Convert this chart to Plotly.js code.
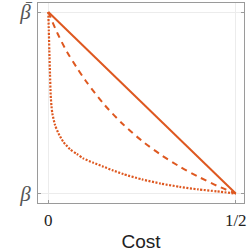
<!DOCTYPE html>
<html>
<head>
<meta charset="utf-8">
<script src="https://cdn.plot.ly/plotly-3.0.1.min.js"></script>
<style>html,body{margin:0;padding:0;background:#fff;}#chart{width:249px;height:252px;}</style>
</head>
<body>
<div id="chart"></div>
<script>
// Data (x = Cost, y normalised between beta (0) and beta-bar (1))
const solidX = [0, 0.5];
const solidY = [1, 0];

const dashedX = [0, 0.025, 0.05, 0.075, 0.1, 0.15, 0.2, 0.25, 0.3, 0.35, 0.4, 0.45, 0.5];
const dashedY = [1, 0.88, 0.78, 0.697, 0.62, 0.488, 0.38, 0.29, 0.214, 0.149, 0.093, 0.043, 0];

const dottedX = [0, 0.0013, 0.0027, 0.0045, 0.0064, 0.0085, 0.0107, 0.018, 0.027, 0.04, 0.058, 0.076, 0.093, 0.12, 0.147, 0.173, 0.2, 0.25, 0.3, 0.35, 0.4, 0.45, 0.5];
const dottedY = [1, 0.9, 0.79, 0.66, 0.54, 0.48, 0.442, 0.377, 0.332, 0.285, 0.244, 0.218, 0.194, 0.17, 0.148, 0.127, 0.107, 0.078, 0.055, 0.037, 0.023, 0.012, 0];

const xTickVals = [0, 0.5];
const xTickText = ['0', '1/2'];
const yTickVals = [0, 1];
const yTickText = ['<i>β</i>', '<i>β</i>'];

const col = 'rgb(222,88,32)';

const traces = [
  {x: solidX, y: solidY, mode: 'lines', line: {color: col, width: 2}, hoverinfo: 'skip'},
  {x: dashedX, y: dashedY, mode: 'lines', line: {color: col, width: 2, dash: '6px,5px', shape: 'spline', smoothing: 0.8}, hoverinfo: 'skip'},
  {x: dottedX, y: dottedY, mode: 'lines', line: {color: col, width: 2.2, dash: '2px,1.5px', shape: 'spline', smoothing: 0.6}, hoverinfo: 'skip'}
];

const layout = {
  width: 249, height: 252,
  margin: {l: 38, r: 5, t: 3, b: 49},
  paper_bgcolor: '#fff', plot_bgcolor: '#fff',
  showlegend: false,
  xaxis: {
    showline: true, linecolor: '#9a9a9a', linewidth: 1, mirror: true,
    showgrid: true, gridcolor: '#ececec', gridwidth: 1, zeroline: false,
    range: [-0.0275, 0.522],
    tickvals: xTickVals, ticktext: xTickText,
    ticks: 'outside', ticklen: 2, tickcolor: 'rgba(0,0,0,0)',
    minor: {ticks: 'inside', ticklen: 3, tickcolor: '#9a9a9a', tick0: 0, dtick: 0.5, showgrid: false},
    tickfont: {family: 'Liberation Serif, DejaVu Serif, serif', size: 17, color: '#222'},
    title: {text: 'Cost', font: {family: 'Liberation Sans, Arial, sans-serif', size: 19, color: '#222'}, standoff: 9}
  },
  yaxis: {
    showline: true, linecolor: '#9a9a9a', linewidth: 1, mirror: 'ticks',
    showgrid: true, gridcolor: '#ececec', gridwidth: 1, zeroline: false,
    range: [-0.052, 1.0496],
    tickvals: yTickVals, ticktext: yTickText,
    ticks: 'inside', ticklen: 3, tickcolor: '#9a9a9a', tickwidth: 1,
    tickfont: {family: 'Liberation Serif, DejaVu Serif, serif', size: 21, color: '#555'},
    ticklabelstandoff: 2
  },
  annotations: [
    {xref: 'paper', yref: 'y', x: -0.045, y: yTickVals[1], yshift: 12, text: '\u203E', showarrow: false, borderpad: 0,
     font: {family: 'DejaVu Sans, sans-serif', size: 12, color: '#555'}, xanchor: 'center', yanchor: 'top'}
  ]
};

Plotly.newPlot('chart', traces, layout, {staticPlot: true, displayModeBar: false});
</script>
</body>
</html>
